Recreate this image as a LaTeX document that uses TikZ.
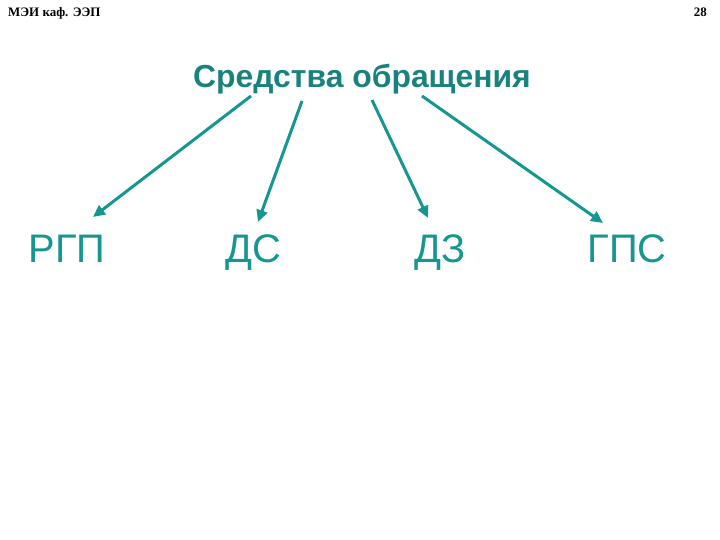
\documentclass[tikz,border=0pt]{standalone}
\usepackage{fontspec}
\setmainfont{Liberation Serif}
\setsansfont{Liberation Sans}
\usetikzlibrary{arrows.meta}
\definecolor{tealA}{RGB}{22,150,145}
\definecolor{tealT}{RGB}{25,130,125}
\tikzset{
  hdr/.style={font=\rmfamily\bfseries\fontsize{13}{15}\selectfont, inner sep=0pt, text=black},
  ttl/.style={font=\sffamily\bfseries\fontsize{32}{36}\selectfont, inner sep=0pt, text=tealT},
  itm/.style={font=\sffamily\fontsize{40}{46}\selectfont, inner sep=0pt, text=tealA, anchor=base},
  conn/.style={draw=tealA, line width=3bp, -{Triangle[length=12bp,width=11bp]}}
}
\begin{document}
\begin{tikzpicture}[x=1bp,y=-1bp]
\useasboundingbox (0,0) rectangle (720,540);
\node[hdr, anchor=base west] (h1) at (8,17) {МЭИ каф. ЭЭП};
\node[hdr, anchor=base east] (h2) at (707,17) {28};
\node[ttl, anchor=base] (title) at (362,88) {Средства обращения};
\node[itm] (a) at (67,263) {РГП};
\node[itm] (b) at (253,263) {ДС};
\node[itm] (c) at (440,263) {ДЗ};
\node[itm] (d) at (627,263) {ГПС};
\coordinate (s1) at (251,96);
\coordinate (s2) at (302,101);
\coordinate (s3) at (372,100);
\coordinate (s4) at (422,96);
\coordinate (e1) at (93,217);
\coordinate (e2) at (258,222);
\coordinate (e3) at (428,218);
\coordinate (e4) at (603,223);
\draw[conn] (s1) -- (e1);
\draw[conn] (s2) -- (e2);
\draw[conn] (s3) -- (e3);
\draw[conn] (s4) -- (e4);
\end{tikzpicture}
\end{document}
